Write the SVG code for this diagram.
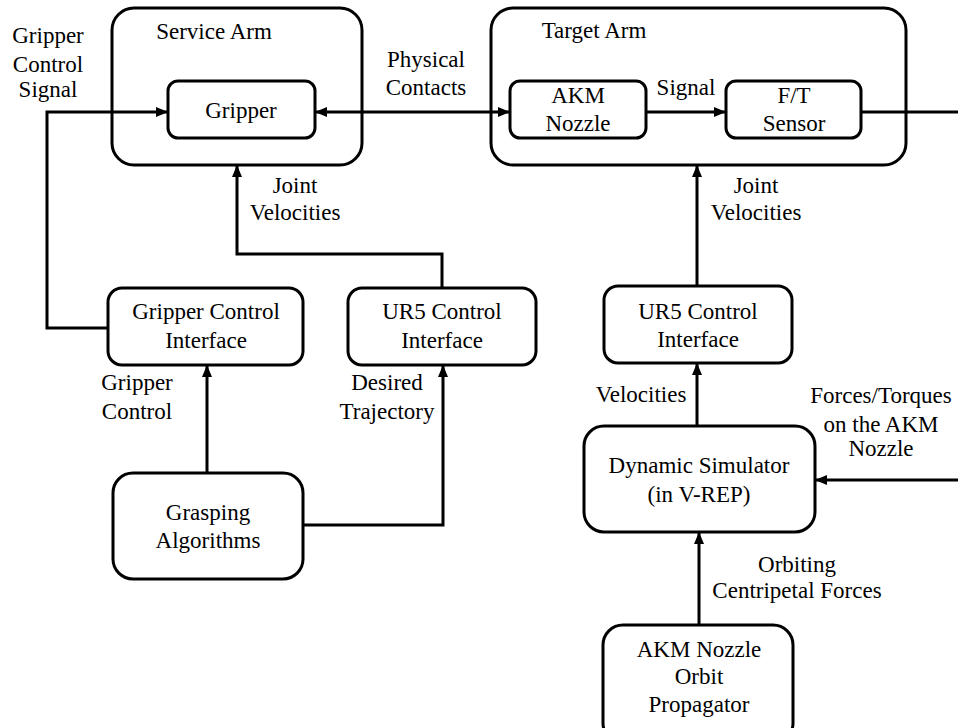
<svg xmlns="http://www.w3.org/2000/svg" width="958" height="728" viewBox="0 0 958 728">
<style>
.box{fill:#fff;stroke:#000;stroke-width:3}
.t{font-family:'Liberation Serif','Times New Roman','DejaVu Serif','Noto Serif',Times,serif;font-size:23px;fill:#000;text-anchor:middle}
.c{fill:none;stroke:#000;stroke-width:3}
.a{marker-end:url(#ah)}
</style>
<defs>
<marker id="ah" viewBox="0 0 12 10" refX="11" refY="5" markerWidth="12" markerHeight="10" markerUnits="userSpaceOnUse" orient="auto-start-reverse">
<path d="M0,0 L12,5 L0,10 z" fill="#000"/>
</marker>
</defs>
<rect width="958" height="728" fill="#fff"/>
<g id="service-arm">
<rect class="box" x="112" y="8" width="250" height="157" rx="22"/>
<text class="t" x="214" y="39" font-family="Liberation Serif, serif">Service Arm</text>
</g>
<g id="target-arm">
<rect class="box" x="491" y="8" width="415" height="157" rx="22"/>
<text class="t" x="594" y="38">Target Arm</text>
</g>
<g id="connectors">
<path class="c a" d="M108,328 H47 V112 H167"/>
<path class="c a" d="M316,112 H509" marker-start="url(#ah)"/>
<path class="c a" d="M646,112 H725"/>
<path class="c" d="M861,112 H960"/>
<path class="c a" d="M442,288 V254 H237 V166"/>
<path class="c a" d="M697,286 V166"/>
<path class="c a" d="M207,473 V366"/>
<path class="c a" d="M303,525 H443 V366"/>
<path class="c a" d="M697,426 V364"/>
<path class="c a" d="M960,480 H816"/>
<path class="c a" d="M699,625 V533"/>
</g>
<g id="gripper">
<rect class="box" x="168" y="81" width="147" height="57" rx="10"/>
<text class="t" x="241" y="118">Gripper</text>
</g>
<g id="akm-nozzle">
<rect class="box" x="510" y="81" width="136" height="57" rx="10"/>
<text class="t" x="578" y="103">AKM</text>
<text class="t" x="578" y="131">Nozzle</text>
</g>
<g id="ft-sensor">
<rect class="box" x="726" y="81" width="135" height="57" rx="10"/>
<text class="t" x="794" y="103">F/T</text>
<text class="t" x="794" y="131">Sensor</text>
</g>
<g id="gripper-control-interface">
<rect class="box" x="108" y="288" width="195" height="77" rx="14"/>
<text class="t" x="206" y="319">Gripper Control</text>
<text class="t" x="206" y="348">Interface</text>
</g>
<g id="ur5-control-interface-service">
<rect class="box" x="348" y="288" width="188" height="77" rx="14"/>
<text class="t" x="442" y="319">UR5 Control</text>
<text class="t" x="442" y="348">Interface</text>
</g>
<g id="grasping-algorithms">
<rect class="box" x="113" y="473" width="190" height="106" rx="20"/>
<text class="t" x="208" y="520">Grasping</text>
<text class="t" x="208" y="548">Algorithms</text>
</g>
<g id="ur5-control-interface-target">
<rect class="box" x="604" y="286" width="188" height="77" rx="14"/>
<text class="t" x="698" y="319">UR5 Control</text>
<text class="t" x="698" y="347">Interface</text>
</g>
<g id="dynamic-simulator">
<rect class="box" x="584" y="426" width="231" height="106" rx="20"/>
<text class="t" x="699" y="473">Dynamic Simulator</text>
<text class="t" x="699" y="502">(in V-REP)</text>
</g>
<g id="orbit-propagator">
<rect class="box" x="603" y="625" width="190" height="118" rx="20"/>
<text class="t" x="699" y="657">AKM Nozzle</text>
<text class="t" x="699" y="684">Orbit</text>
<text class="t" x="699" y="712">Propagator</text>
</g>
<g id="labels">
<text class="t" x="48" y="43">Gripper</text>
<text class="t" x="48" y="72">Control</text>
<text class="t" x="48" y="97">Signal</text>
<text class="t" x="426" y="67">Physical</text>
<text class="t" x="426" y="95">Contacts</text>
<text class="t" x="686" y="95">Signal</text>
<text class="t" x="295" y="193">Joint</text>
<text class="t" x="295" y="220">Velocities</text>
<text class="t" x="756" y="193">Joint</text>
<text class="t" x="756" y="220">Velocities</text>
<text class="t" x="137" y="390">Gripper</text>
<text class="t" x="137" y="419">Control</text>
<text class="t" x="387" y="390">Desired</text>
<text class="t" x="387" y="419">Trajectory</text>
<text class="t" x="641" y="402">Velocities</text>
<text class="t" x="881" y="403">Forces/Torques</text>
<text class="t" x="881" y="432">on the AKM</text>
<text class="t" x="881" y="456">Nozzle</text>
<text class="t" x="797" y="572">Orbiting</text>
<text class="t" x="797" y="598">Centripetal Forces</text>
</g>
</svg>
